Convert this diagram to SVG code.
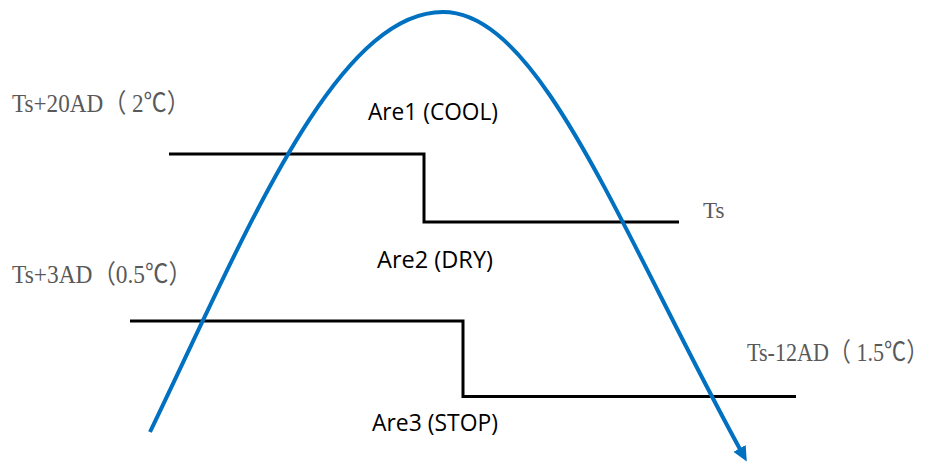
<svg xmlns="http://www.w3.org/2000/svg" width="935" height="464" viewBox="0 0 935 464">
  <style>
    .thr { fill: none; stroke: #000000; stroke-width: 3; stroke-linejoin: miter; }
    .curve { fill: none; stroke: #0070C0; stroke-width: 4; }
    .lvl { font-family: "Liberation Serif", "Noto Sans CJK SC", serif; font-size: 26px; fill: #595959; }
    .area { font-family: "Open Sans", "Liberation Sans", sans-serif; font-size: 23px; fill: #000000; }
  </style>
  <defs>
    <marker id="arrow" markerUnits="userSpaceOnUse" markerWidth="16" markerHeight="14" refX="3" refY="7" orient="auto" viewBox="0 0 16 14">
      <path d="M0,0 L15,7 L0,14 z" fill="#0070C0"/>
    </marker>
  </defs>
  <rect width="935" height="464" fill="#ffffff"/>
  <g id="connectors">
    <path id="upper-threshold" class="thr" d="M169,154 H424 V222 H679"/>
    <path id="lower-threshold" class="thr" d="M130,321 H463 V396.5 H796"/>
    <path id="temperature-curve" class="curve" d="M150,432 C245,235 335,12 443,12 C540,12 620,230 741,451" marker-end="url(#arrow)"/>
  </g>
  <g id="label-ts20">
    <text class="lvl" transform="translate(12,112) scale(0.89,1)">Ts+20AD（ 2℃）</text>
  </g>
  <g id="label-ts">
    <text class="lvl" x="703" y="218" style="font-size:23px">Ts</text>
  </g>
  <g id="label-ts3">
    <text class="lvl" transform="translate(12,283) scale(0.9,1)">Ts+3AD（0.5℃）</text>
  </g>
  <g id="label-ts12">
    <text class="lvl" transform="translate(747,361) scale(0.85,1)">Ts-12AD（ 1.5℃）</text>
  </g>
  <g id="area1">
    <text class="area" x="368" y="120" textLength="130" lengthAdjust="spacingAndGlyphs">Are1 (COOL)</text>
  </g>
  <g id="area2">
    <text class="area" x="377" y="268" textLength="116" lengthAdjust="spacingAndGlyphs">Are2 (DRY)</text>
  </g>
  <g id="area3">
    <text class="area" x="372" y="431" textLength="126" lengthAdjust="spacingAndGlyphs">Are3 (STOP)</text>
  </g>
</svg>
